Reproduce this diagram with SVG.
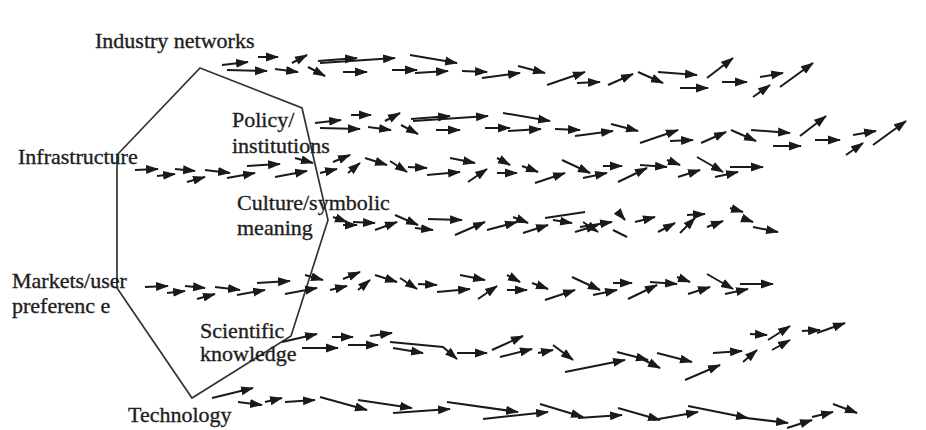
<svg xmlns="http://www.w3.org/2000/svg" xmlns:xlink="http://www.w3.org/1999/xlink" width="926" height="430" viewBox="0 0 926 430">
<style>
  .lbl{font-family:"Liberation Serif","Times New Roman",serif;font-size:22px;fill:#1e1e1e;stroke:#1e1e1e;stroke-width:0.35}
  .a{stroke:#1a1a1a;stroke-width:2;fill:none;marker-end:url(#ah)}
  .l{stroke:#1a1a1a;stroke-width:2;fill:none}
  .poly{stroke:#333;stroke-width:1.7;fill:none;stroke-linejoin:miter}
</style>
<defs>
  <marker id="ah" markerUnits="userSpaceOnUse" markerWidth="13" markerHeight="10" refX="12" refY="5" orient="auto">
    <path d="M0,0.5 L13,5 L0,9.5 Z" fill="#1a1a1a"/>
  </marker>
</defs>
<rect width="926" height="430" fill="#fff"/>

<g id="regime">
  <polygon class="poly" points="200,68 302,108 328,220 291,336 192,398 117,288 117,155"/>
</g>

<g id="labels">
  <text id="industry" class="lbl" x="95" y="48">Industry networks</text>
  <text id="policy" class="lbl" x="232" y="127">Policy/<tspan x="232" y="153">institutions</tspan></text>
  <text id="infra" class="lbl" x="18" y="164">Infrastructure</text>
  <text id="culture" class="lbl" x="237" y="210">Culture/symbolic<tspan x="237" y="235">meaning</tspan></text>
  <text id="markets" class="lbl" x="12" y="288">Markets/user<tspan x="12" y="313">preferenc e</tspan></text>
  <text id="science" class="lbl" x="200" y="338">Scientific<tspan x="200" y="361">knowledge</tspan></text>
  <text id="tech" class="lbl" x="128" y="422">Technology</text>
</g>

<g id="connectors">
  <g id="row1">
    <path class="a" d="M222,65 L248,62"/>
    <path class="a" d="M227,70 L267,71"/>
    <path class="a" d="M258,57 L278,57"/>
    <path class="a" d="M275,69 L298,72"/>
    <path class="a" d="M292,63 L307,55"/>
    <path class="a" d="M308,67 L325,76"/>
    <path class="a" d="M318,61 L357,58"/>
    <path class="a" d="M320,63 L395,58"/>
    <path class="a" d="M343,72 L367,72"/>
    <path class="a" d="M392,70 L417,70"/>
    <path class="a" d="M410,55 L457,63"/>
    <path class="a" d="M415,73 L448,71"/>
    <path class="a" d="M462,71 L487,72"/>
    <path class="a" d="M482,78 L520,73"/>
    <path class="a" d="M518,66 L545,73"/>
    <path class="a" d="M547,85 L585,72"/>
    <path class="a" d="M577,83 L600,82"/>
    <path class="a" d="M608,85 L633,74"/>
    <path class="a" d="M638,72 L663,83"/>
    <path class="a" d="M658,72 L697,75"/>
    <path class="a" d="M680,88 L708,88"/>
    <path class="a" d="M707,78 L733,58"/>
    <path class="a" d="M722,82 L747,82"/>
    <path class="a" d="M760,77 L783,73"/>
    <path class="a" d="M753,97 L770,85"/>
    <path class="a" d="M780,87 L813,63"/>
  </g>
  <use id="row2" xlink:href="#row1" href="#row1" transform="translate(93,58)"/>

  <g id="row3">
    <path class="a" d="M135,170 L158,169"/>
    <path class="a" d="M157,176 L175,174"/>
    <path class="a" d="M175,169 L195,171"/>
    <path class="a" d="M187,182 L205,177"/>
    <path class="a" d="M205,170 L230,173"/>
    <path class="a" d="M227,178 L255,173"/>
    <path class="a" d="M247,166 L280,164"/>
    <path class="a" d="M275,177 L307,171"/>
    <path class="a" d="M295,158 L313,163"/>
    <path class="a" d="M320,173 L337,169"/>
    <path class="a" d="M333,162 L350,155"/>
    <path class="a" d="M348,173 L360,163"/>
    <path class="a" d="M365,158 L387,165"/>
    <path class="a" d="M390,161 L407,172"/>
    <path class="a" d="M408,167 L427,168"/>
    <path class="a" d="M427,175 L460,172"/>
    <path class="a" d="M450,158 L475,163"/>
    <path class="a" d="M468,182 L487,169"/>
    <path class="a" d="M497,158 L510,165"/>
    <path class="a" d="M497,173 L517,173"/>
    <path class="a" d="M522,166 L538,172"/>
    <path class="a" d="M535,183 L565,173"/>
    <path class="a" d="M562,160 L590,173"/>
    <path class="a" d="M583,178 L607,173"/>
    <path class="a" d="M603,166 L622,166"/>
    <path class="a" d="M618,182 L647,168"/>
    <path class="a" d="M640,165 L667,167"/>
    <path class="a" d="M667,160 L680,165"/>
    <path class="a" d="M678,177 L700,170"/>
    <path class="a" d="M697,157 L723,172"/>
    <path class="a" d="M715,177 L738,172"/>
    <path class="a" d="M730,167 L763,167"/>
  </g>
  <use id="row5" xlink:href="#row3" href="#row3" transform="translate(10,117)"/>

  <g id="row4">
    <path class="a" d="M333,217 L347,222"/>
    <path class="a" d="M343,225 L357,225"/>
    <path class="a" d="M353,222 L375,223"/>
    <path class="a" d="M375,230 L397,222"/>
    <path class="a" d="M395,215 L418,225"/>
    <path class="a" d="M415,228 L433,230"/>
    <path class="a" d="M428,219 L462,220"/>
    <path class="a" d="M455,235 L485,222"/>
    <path class="a" d="M487,230 L517,222"/>
    <path class="a" d="M513,217 L528,223"/>
    <path class="a" d="M523,233 L548,225"/>
    <path class="l" d="M545,218 L585,212"/>
    <path class="a" d="M553,220 L572,223"/>
    <path class="a" d="M575,232 L598,225"/>
    <path class="a" d="M580,227 L612,222"/>
    <path class="a" d="M583,222 L598,232"/>
    <path class="a" d="M618,212 L625,220"/>
    <path class="l" d="M613,230 L627,237"/>
    <path class="a" d="M635,222 L655,217"/>
    <path class="a" d="M658,232 L675,223"/>
    <path class="a" d="M680,233 L695,218"/>
    <path class="a" d="M687,215 L705,214"/>
    <path class="a" d="M707,227 L723,221"/>
    <path class="a" d="M730,208 L743,212"/>
    <path class="a" d="M742,218 L753,222"/>
    <path class="a" d="M753,227 L778,232"/>
  </g>

  <g id="row6">
    <path class="a" d="M282,342 L317,334"/>
    <path class="a" d="M302,348 L338,348"/>
    <path class="a" d="M332,337 L353,337"/>
    <path class="a" d="M348,345 L378,345"/>
    <path class="a" d="M370,336 L392,333"/>
    <path class="a" d="M393,348 L423,353"/>
    <path class="a" d="M390,342 L443,347 L457,359"/>
    <path class="a" d="M457,353 L487,353"/>
    <path class="a" d="M492,350 L523,336"/>
    <path class="a" d="M500,357 L532,349"/>
    <path class="a" d="M538,353 L553,350"/>
    <path class="a" d="M553,345 L573,360"/>
    <path class="a" d="M565,372 L625,360"/>
    <path class="a" d="M617,352 L648,360"/>
    <path class="a" d="M638,357 L660,368"/>
    <path class="a" d="M657,353 L692,362"/>
    <path class="a" d="M685,380 L720,365"/>
    <path class="a" d="M713,353 L742,351"/>
    <path class="a" d="M743,362 L757,350"/>
    <path class="a" d="M750,334 L767,335"/>
    <path class="a" d="M768,340 L790,326"/>
    <path class="a" d="M772,350 L790,340"/>
    <path class="a" d="M802,331 L820,330"/>
    <path class="a" d="M817,333 L845,323"/>
  </g>

  <g id="row7">
    <path class="a" d="M212,398 L253,388"/>
    <path class="a" d="M238,402 L262,405"/>
    <path class="a" d="M265,402 L282,398"/>
    <path class="a" d="M285,402 L315,400"/>
    <path class="a" d="M320,397 L367,410"/>
    <path class="a" d="M358,400 L412,408"/>
    <path class="a" d="M393,413 L450,409"/>
    <path class="a" d="M447,402 L518,412"/>
    <path class="a" d="M483,419 L548,412"/>
    <path class="a" d="M540,404 L583,417"/>
    <path class="a" d="M578,418 L622,415"/>
    <path class="a" d="M618,408 L660,420"/>
    <path class="a" d="M653,420 L698,412"/>
    <path class="a" d="M688,406 L748,418"/>
    <path class="a" d="M738,417 L788,423"/>
    <path class="a" d="M787,428 L812,420"/>
    <path class="a" d="M812,417 L833,412"/>
    <path class="a" d="M833,404 L857,413"/>
  </g>
</g>
</svg>
